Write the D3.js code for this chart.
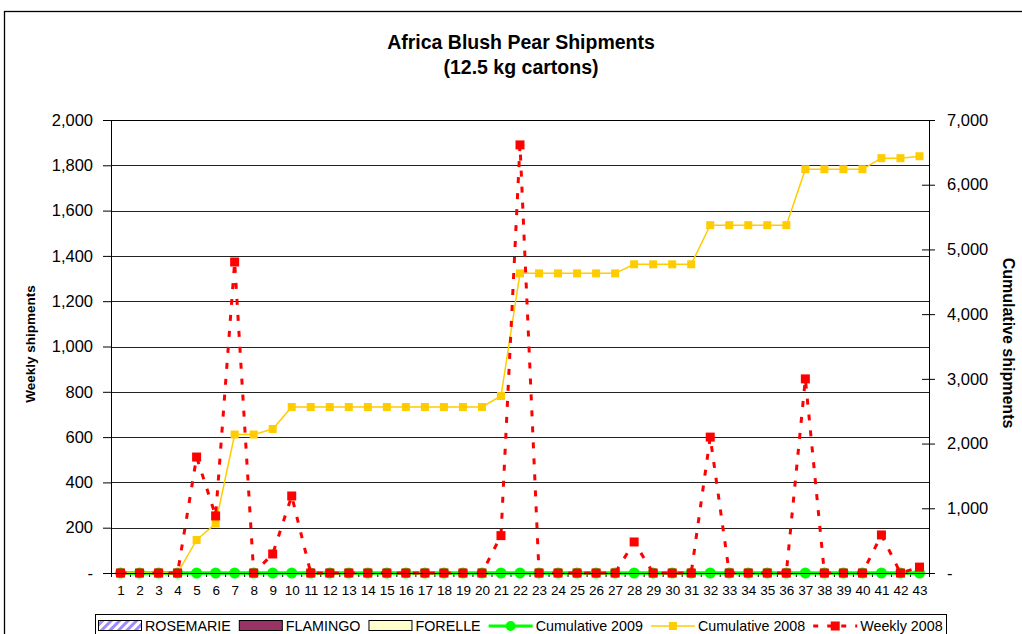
<!DOCTYPE html>
<html>
<head>
<meta charset="utf-8">
<script src="https://cdn.jsdelivr.net/npm/d3@7"></script>
<style>
	body { margin: 0; background: #fff; }
	svg { display: block; font-family: "Liberation Sans", Arial, sans-serif; }
</style>
</head>
<body>
<svg id="chart"></svg>
<script>
const weeks = [1, 2, 3, 4, 5, 6, 7, 8, 9, 10, 11, 12, 13, 14, 15, 16, 17, 18, 19, 20, 21, 22,
	23, 24, 25, 26, 27, 28, 29, 30, 31, 32, 33, 34, 35, 36, 37, 38, 39, 40, 41, 42, 43];

// bar series are empty in this chart, only the legend shows them
const rosemarie = [0, 0, 0, 0, 0, 0, 0, 0, 0, 0, 0, 0, 0, 0, 0, 0, 0, 0, 0, 0, 0, 0, 0, 0, 0, 0, 0, 0, 0, 0, 0, 0, 0, 0, 0, 0, 0, 0, 0, 0, 0, 0, 0];
const flamingo = [0, 0, 0, 0, 0, 0, 0, 0, 0, 0, 0, 0, 0, 0, 0, 0, 0, 0, 0, 0, 0, 0, 0, 0, 0, 0, 0, 0, 0, 0, 0, 0, 0, 0, 0, 0, 0, 0, 0, 0, 0, 0, 0];
const forelle = [0, 0, 0, 0, 0, 0, 0, 0, 0, 0, 0, 0, 0, 0, 0, 0, 0, 0, 0, 0, 0, 0, 0, 0, 0, 0, 0, 0, 0, 0, 0, 0, 0, 0, 0, 0, 0, 0, 0, 0, 0, 0, 0];

const cumulative2009 = [0, 0, 0, 0, 0, 0, 0, 0, 0, 0, 0, 0, 0, 0, 0, 0, 0, 0, 0, 0, 0, 0, 0, 0, 0, 0, 0, 0, 0, 0, 0, 0, 0, 0, 0, 0, 0, 0, 0, 0, 0, 0, 0];
const cumulative2008 = [0, 0, 0, 0, 510, 765, 2140, 2140, 2225, 2565, 2565, 2565, 2565, 2565, 2565, 2565, 2565, 2565, 2565, 2565,
	2735, 4630, 4630, 4630, 4630, 4630, 4630, 4770, 4770, 4770, 4770, 5375, 5375, 5375, 5375, 5375,
	6240, 6240, 6240, 6240, 6410, 6410, 6440];
const weekly2008 = [0, 0, 0, 0, 512, 252, 1373, 0, 84, 340, 0, 0, 0, 0, 0, 0, 0, 0, 0, 0,
	165, 1890, 0, 0, 0, 0, 0, 137, 0, 0, 0, 600, 0, 0, 0, 0, 857, 0, 0, 0, 168, 0, 26];

const leftTicks = [0, 200, 400, 600, 800, 1000, 1200, 1400, 1600, 1800, 2000];
const rightTicks = [0, 1000, 2000, 3000, 4000, 5000, 6000, 7000];
const legendNames = ['ROSEMARIE', 'FLAMINGO', 'FORELLE', 'Cumulative 2009', 'Cumulative 2008', 'Weekly 2008'];

const DIMENSION = {
	width: 1022,
	height: 634,
	left: 111,
	right: 929,
	top: 120,
	bottom: 573
};

const svg = d3.select('#chart')
	.attr('width', DIMENSION.width)
	.attr('height', DIMENSION.height);

svg.append('rect')
	.attr('width', DIMENSION.width)
	.attr('height', DIMENSION.height)
	.attr('fill', '#fff');

// outer chart frame, runs off the right and bottom edge
svg.append('rect')
	.attr('x', 4.5).attr('y', 11.5)
	.attr('width', 1040).attr('height', 650)
	.attr('fill', 'none')
	.attr('stroke', '#000')
	.attr('stroke-width', 1.3);

const defs = svg.append('defs');
const hatch = defs.append('pattern')
	.attr('id', 'hatch')
	.attr('patternUnits', 'userSpaceOnUse')
	.attr('width', 6).attr('height', 6)
	.attr('patternTransform', 'rotate(45)');
hatch.append('rect').attr('width', 6).attr('height', 6).attr('fill', '#fff');
hatch.append('rect').attr('width', 3).attr('height', 6).attr('fill', '#9c8cff');

const xScale = d3.scaleLinear()
	.domain([0.5, 43.5])
	.range([DIMENSION.left, DIMENSION.right]);
const yLeft = d3.scaleLinear()
	.domain([0, 2000])
	.range([DIMENSION.bottom, DIMENSION.top]);
const yRight = d3.scaleLinear()
	.domain([0, 7000])
	.range([DIMENSION.bottom, DIMENSION.top]);

const fmt = d => d === 0 ? '-' : d3.format(',')(d);

// title
const title = svg.append('text')
	.attr('x', 521)
	.attr('text-anchor', 'middle')
	.attr('font-weight', 'bold')
	.attr('font-size', 19.5);
title.append('tspan').attr('x', 521).attr('y', 49).text('Africa Blush Pear Shipments');
title.append('tspan').attr('x', 521).attr('y', 74).text('(12.5 kg cartons)');

// grid lines
svg.append('g')
	.selectAll('line')
	.data(leftTicks.filter(d => d > 0))
	.join('line')
	.attr('x1', DIMENSION.left).attr('x2', DIMENSION.right)
	.attr('y1', d => Math.round(yLeft(d)) + 0.5)
	.attr('y2', d => Math.round(yLeft(d)) + 0.5)
	.attr('stroke', '#222')
	.attr('stroke-width', 1);

// left axis
const leftAxis = svg.append('g')
	.attr('transform', `translate(${DIMENSION.left},0)`)
	.call(d3.axisLeft(yLeft).tickValues(leftTicks).tickFormat(fmt).tickSize(8).tickSizeOuter(0).tickPadding(10));
leftAxis.selectAll('text').attr('font-size', 16.5).attr('fill', '#000');
leftAxis.select('.domain').attr('stroke', '#000');

// right axis, ticks cross the line
const rightAxis = svg.append('g')
	.attr('transform', `translate(${DIMENSION.right},0)`)
	.call(d3.axisRight(yRight).tickValues(rightTicks).tickFormat(fmt).tickSize(6).tickSizeOuter(0).tickPadding(12));
rightAxis.selectAll('.tick line').attr('x1', -7);
rightAxis.selectAll('text').attr('font-size', 16.5).attr('fill', '#000');

// x axis labels and boundary ticks
const xAxis = svg.append('g')
	.attr('transform', `translate(0,${DIMENSION.bottom})`)
	.call(d3.axisBottom(xScale).tickValues(weeks).tickFormat(d => d).tickSize(0).tickPadding(12));
xAxis.selectAll('text').attr('font-size', 13.5).attr('fill', '#000');
xAxis.select('.domain').remove();
svg.append('g')
	.attr('transform', `translate(0,${DIMENSION.bottom})`)
	.call(d3.axisBottom(xScale).tickValues(weeks.map(d => d - 0.5).concat([43.5])).tickFormat('').tickSize(4).tickSizeOuter(0));

// empty bar series
const band = xScale(2) - xScale(1);
[[rosemarie, 'url(#hatch)'], [flamingo, '#993366'], [forelle, '#ffffcc']].forEach(([series, fill], k) => {
	svg.append('g')
		.selectAll('rect')
		.data(series)
		.join('rect')
		.attr('x', (d, i) => xScale(weeks[i]) - band * 0.35 + k * band * 0.23)
		.attr('width', band * 0.23)
		.attr('y', d => yLeft(d))
		.attr('height', d => DIMENSION.bottom - yLeft(d))
		.attr('fill', fill);
});

// cumulative 2009
const lineRight = d3.line().x((d, i) => xScale(weeks[i])).y(d => yRight(d));
svg.append('path')
	.datum(cumulative2009)
	.attr('fill', 'none')
	.attr('stroke', '#00ff00')
	.attr('stroke-width', 3.5)
	.attr('d', lineRight);
svg.append('g')
	.selectAll('circle')
	.data(cumulative2009)
	.join('circle')
	.attr('cx', (d, i) => xScale(weeks[i]))
	.attr('cy', d => yRight(d))
	.attr('r', 5.5)
	.attr('fill', '#00ff00');

// cumulative 2008
svg.append('path')
	.datum(cumulative2008)
	.attr('fill', 'none')
	.attr('stroke', '#ffcc00')
	.attr('stroke-width', 1.5)
	.attr('d', lineRight);
svg.append('g')
	.selectAll('rect')
	.data(cumulative2008)
	.join('rect')
	.attr('x', (d, i) => xScale(weeks[i]) - 4)
	.attr('y', d => yRight(d) - 4)
	.attr('width', 8).attr('height', 8)
	.attr('fill', '#ffcc00');

// weekly 2008
const lineWeekly = d3.line().x((d, i) => xScale(weeks[i])).y(d => yLeft(d));
svg.append('path')
	.datum(weekly2008)
	.attr('fill', 'none')
	.attr('stroke', '#ff0000')
	.attr('stroke-width', 3)
	.attr('stroke-dasharray', '6,10')
	.attr('d', lineWeekly);
svg.append('g')
	.selectAll('rect')
	.data(weekly2008)
	.join('rect')
	.attr('x', (d, i) => xScale(weeks[i]) - 4.5)
	.attr('y', d => yLeft(d) - 4.5)
	.attr('width', 9).attr('height', 9)
	.attr('fill', '#ff0000');

// axis lines on top
svg.append('line')
	.attr('x1', DIMENSION.left).attr('x2', DIMENSION.right)
	.attr('y1', DIMENSION.top + 0.5).attr('y2', DIMENSION.top + 0.5)
	.attr('stroke', '#000');
svg.append('line')
	.attr('x1', DIMENSION.left).attr('x2', DIMENSION.right)
	.attr('y1', DIMENSION.bottom + 0.5).attr('y2', DIMENSION.bottom + 0.5)
	.attr('stroke', '#000');

// axis titles
svg.append('text')
	.attr('transform', 'translate(35,344) rotate(-90)')
	.attr('text-anchor', 'middle')
	.attr('font-weight', 'bold')
	.attr('font-size', 13.5)
	.text('Weekly shipments');
svg.append('text')
	.attr('transform', 'translate(1003,343) rotate(90)')
	.attr('text-anchor', 'middle')
	.attr('font-weight', 'bold')
	.attr('font-size', 16)
	.text('Cumulative shipments');

// legend
const legend = svg.append('g');
legend.append('rect')
	.attr('x', 95.5).attr('y', 614.5)
	.attr('width', 851).attr('height', 40)
	.attr('fill', '#fff')
	.attr('stroke', '#000');

let lx = 98;
const ly = 626;
legendNames.forEach((name, i) => {
	const g = legend.append('g');
	if (i < 3) {
		g.append('rect')
			.attr('x', lx + 0.5).attr('y', ly - 5.5)
			.attr('width', 43).attr('height', 10)
			.attr('fill', ['url(#hatch)', '#993366', '#ffffcc'][i])
			.attr('stroke', '#000');
	} else {
		const color = ['#00ff00', '#ffcc00', '#ff0000'][i - 3];
		g.append('line')
			.attr('x1', lx).attr('x2', lx + 44)
			.attr('y1', ly).attr('y2', ly)
			.attr('stroke', color)
			.attr('stroke-width', i === 4 ? 1.5 : 3)
			.attr('stroke-dasharray', i === 5 ? '5,9' : null);
		if (i === 3) {
			g.append('circle').attr('cx', lx + 22).attr('cy', ly).attr('r', 5).attr('fill', color);
		} else {
			const s = i === 4 ? 8 : 9;
			g.append('rect').attr('x', lx + 22 - s / 2).attr('y', ly - s / 2).attr('width', s).attr('height', s).attr('fill', color);
		}
	}
	const t = g.append('text')
		.attr('x', lx + 47)
		.attr('y', ly + 5)
		.attr('font-size', 14.3)
		.text(name);
	lx += 47 + t.node().getComputedTextLength() + 8;
});
</script>
</body>
</html>
